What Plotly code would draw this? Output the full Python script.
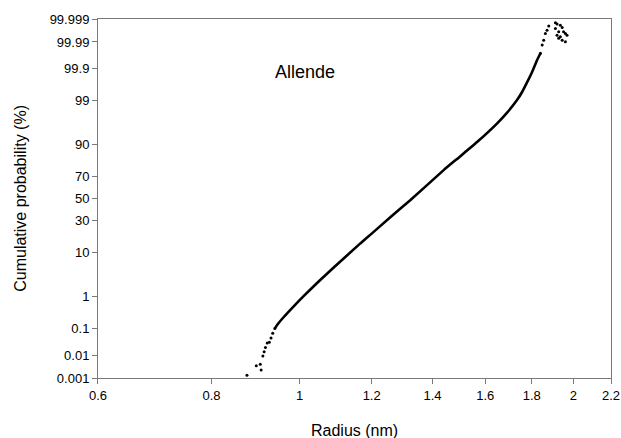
from statistics import NormalDist

import plotly.graph_objects as go

# sparse lower tail (dots)
low_radius = [0.875, 0.896, 0.905, 0.907, 0.911, 0.914, 0.917, 0.921, 0.926,
              0.930, 0.934, 0.939]
low_prob = [0.00132, 0.0035, 0.0041, 0.0023, 0.0091, 0.0136, 0.020, 0.030,
            0.032, 0.046, 0.068, 0.10]

# dense middle part of the distribution
mid_radius = [0.939, 0.944, 0.960, 0.985, 1.010, 1.052, 1.090, 1.166, 1.200,
              1.258, 1.324, 1.440, 1.500, 1.567, 1.649, 1.691, 1.734, 1.757,
              1.779, 1.802, 1.824, 1.840]
mid_prob = [0.10, 0.13, 0.239, 0.522, 1.02, 2.56, 5.04, 14.3, 20.2, 32.8,
            48.5, 75.0, 84.0, 91.0, 96.3, 97.93, 99.03, 99.44, 99.715,
            99.871, 99.949, 99.972]

# sparse upper tail (dots)
high_radius = [1.840, 1.848, 1.855, 1.863, 1.871, 1.879, 1.911, 1.919, 1.935,
               1.944, 1.911, 1.927, 1.951, 1.960, 1.919, 1.935, 1.944, 1.960,
               1.927, 1.968]
high_prob = [99.972, 99.9866, 99.9916, 99.9956, 99.9968, 99.9979, 99.9985,
             99.9983, 99.9981, 99.9976, 99.9973, 99.9963, 99.9963, 99.9956,
             99.9948, 99.9939, 99.9916, 99.9901, 99.9929, 99.9948]

x_ticks = [0.6, 0.8, 1, 1.2, 1.4, 1.6, 1.8, 2, 2.2]
y_ticks = [0.001, 0.01, 0.1, 1, 10, 30, 50, 70, 90, 99, 99.9, 99.99, 99.999]
y_tick_text = ['0.001', '0.01', '0.1', '1', '10', '30', '50', '70', '90',
               '99', '99.9', '99.99', '99.999']

nd = NormalDist()


def probit(percents):
    return [nd.inv_cdf(p / 100) for p in percents]


FONT = 'Liberation Sans, Arial, sans-serif'
AXIS_GREY = '#7a7a7a'

fig = go.Figure()

fig.add_trace(go.Scatter(
    x=mid_radius, y=probit(mid_prob), mode='lines',
    line=dict(color='black', width=2.6, shape='spline', smoothing=0.4),
    hoverinfo='skip'))

fig.add_trace(go.Scatter(
    x=low_radius + high_radius, y=probit(low_prob + high_prob),
    mode='markers', marker=dict(color='black', size=3)))

y_lim = nd.inv_cdf(0.99999)

fig.update_layout(
    width=621, height=438,
    margin=dict(l=98, r=10, t=19, b=60),
    paper_bgcolor='white', plot_bgcolor='white',
    showlegend=False,
    font=dict(family=FONT, color='black', size=13),
    xaxis=dict(
        type='log', range=[-0.2218, 0.3424],
        tickvals=x_ticks, ticktext=[str(v) for v in x_ticks],
        showgrid=False, zeroline=False, automargin=False,
        showline=True, linecolor=AXIS_GREY, linewidth=1, mirror=True,
        ticks='outside', ticklen=5, tickcolor=AXIS_GREY,
        tickfont=dict(size=13),
    ),
    yaxis=dict(
        range=[-y_lim, y_lim],
        tickvals=probit(y_ticks), ticktext=y_tick_text,
        showgrid=False, zeroline=False, automargin=False,
        showline=True, linecolor=AXIS_GREY, linewidth=1, mirror=True,
        ticks='outside', ticklen=5, tickcolor=AXIS_GREY,
        tickfont=dict(size=13),
    ),
    annotations=[
        dict(text='Allende', x=0.404, y=0.852, xref='paper', yref='paper',
             xanchor='center', yanchor='middle',
             showarrow=False, font=dict(size=18)),
        dict(text='Radius (nm)', x=0.5, y=-0.145, xref='paper', yref='paper',
             xanchor='center', yanchor='middle',
             showarrow=False, font=dict(size=16)),
        dict(text='Cumulative probability (%)', x=-0.1515, y=0.5,
             xref='paper', yref='paper', textangle=-90,
             xanchor='center', yanchor='middle',
             showarrow=False, font=dict(size=16)),
    ],
)

# page body has a default 8px margin; drop it so the figure sits at 0,0
fig.write_html("out.html", config={'displayModeBar': False},
               post_script="document.body.style.margin='0';")
